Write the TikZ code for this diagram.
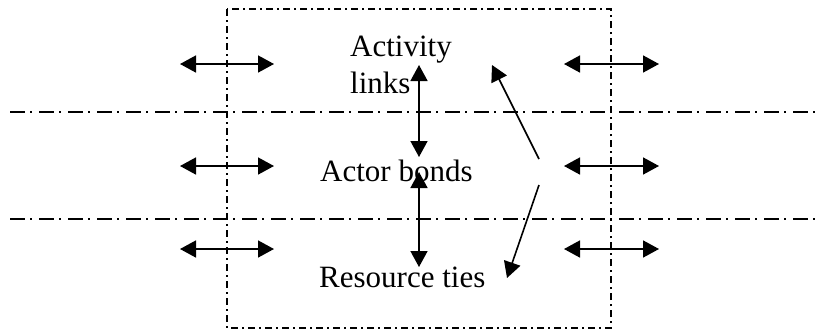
\documentclass[tikz,border=0pt]{standalone}
\usepackage{fontspec}
\setmainfont{Liberation Serif}
\usetikzlibrary{arrows.meta}
\begin{document}
\begin{tikzpicture}[x=1pt,y=-1pt,
  label/.style={inner sep=0pt, font=\fontsize{31}{37}\selectfont, align=left, anchor=base west},
  boxline/.style={line width=1.6pt, dash pattern=on 7pt off 4pt on 2pt off 4pt},
  layerline/.style={line width=1.8pt, dash pattern=on 15pt off 5pt on 2pt off 7pt},
  dbl/.style={line width=1.6pt, {Triangle[length=16pt,width=17pt]}-{Triangle[length=16pt,width=17pt]}},
  sgl/.style={line width=1.6pt, -{Triangle[length=16pt,width=17pt]}}]
\useasboundingbox (0,0) rectangle (818,333);
% frame
\draw[boxline] (227,9) rectangle (611,328);
% layer separators
\coordinate (l1a) at (10,112); \coordinate (l1b) at (818,112);
\coordinate (l2a) at (10,219); \coordinate (l2b) at (818,219);
\draw[layerline] (l1a) -- (l1b);
\draw[layerline] (l2a) -- (l2b);
% labels (base anchor of a multi-line node is its last line)
\node[label] (act) at (350,93) {Activity\\links};
\node[label] (bond) at (320,181) {Actor bonds};
\node[label] (res) at (319,287) {Resource ties};
% side arrows
\foreach \y/\n in {64/a,166/b,249/c}{
  \coordinate (L\n1) at (180,\y); \coordinate (L\n2) at (274,\y);
  \coordinate (R\n1) at (564,\y); \coordinate (R\n2) at (659,\y);
  \draw[dbl] (L\n1) -- (L\n2);
  \draw[dbl] (R\n1) -- (R\n2);
}
% vertical arrows
\coordinate (v1a) at (419,65); \coordinate (v1b) at (419,157);
\coordinate (v2a) at (419,172); \coordinate (v2b) at (419,267);
\draw[dbl] (v1a) -- (v1b);
\draw[dbl] (v2a) -- (v2b);
% diagonal arrows
\coordinate (d1s) at (539,159); \coordinate (d1e) at (492,65);
\coordinate (d2s) at (539,185); \coordinate (d2e) at (507,278);
\draw[sgl] (d1s) -- (d1e);
\draw[sgl] (d2s) -- (d2e);
\end{tikzpicture}
\end{document}
